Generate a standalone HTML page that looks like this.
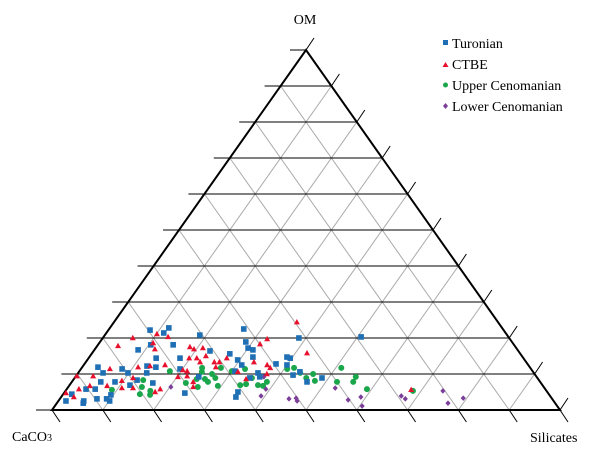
<!DOCTYPE html>
<html><head><meta charset="utf-8"><style>
html,body{margin:0;padding:0;background:#fff;}
svg{display:block;font-family:"Liberation Serif",serif;}
</style></head><body>
<svg id="chart" width="602" height="458" viewBox="0 0 602 458">
<g id="grid"></g>
<g id="points"></g>
<text x="305" y="24" text-anchor="middle" font-size="14">OM</text>
<text x="12" y="441" font-size="14">CaCO<tspan font-size="10">3</tspan></text>
<text x="530" y="442" font-size="14">Silicates</text>
<g font-size="14">
 <rect x="443" y="40" width="5" height="5" fill="#1f6fb5"/>
 <text x="452" y="48">Turonian</text>
 <polygon points="445.5,62 448.5,67 442.5,67" fill="#e8112d"/>
 <text x="452" y="69">CTBE</text>
 <circle cx="445.5" cy="85" r="2.5" fill="#1aa64a"/>
 <text x="452" y="90">Upper Cenomanian</text>
 <polygon points="445.5,103 448,106 445.5,109 443,106" fill="#7b3f9a"/>
 <text x="452" y="111">Lower Cenomanian</text>
</g>
</svg>
<script>
const turOM=[22.2,21.4,22.8,20.8,16.7,18.1,14.4,18.1,14.4,11.9,11.4,10.3,12.2,11.9,11.4,10.3,10.3,7.8,7.8,8.3,7.5,5.8,5.8,2.5,4.4,2.5,3.1,3.1,4.2,2.5,4.7,6.9,9.2,22.5,18.9,17.2,16.7,14.7,15.6,13.9,12.5,10.8,8.9,10.3,9.2,12.8,14.7,14.4,20.0,9.7,10.6,7.8,8.9,5.0,3.6,20.3,16.4,12.5,1.9];
const turSil=[8.2,11.3,11.6,18.7,8.6,10.4,13.3,14.8,18.0,3.1,8.1,4.9,12.6,14.5,19.5,9.8,13.5,8.5,5.7,12.6,16.1,3.8,5.6,1.5,1.7,5.0,7.3,9.2,9.5,10.1,23.8,11.9,24.3,26.5,28.7,30.0,31.2,32.2,27.2,29.6,31.1,30.6,34.5,35.4,36.3,37.7,38.9,39.7,38.6,42.6,43.5,46.3,48.7,34.1,34.4,50.7,22.9,40.0,5.2];
const ctbOM=[20.0,21.1,20.3,17.8,18.6,16.9,17.5,16.9,17.2,14.4,14.4,15.0,11.9,11.4,12.5,12.2,9.4,9.4,8.1,8.9,6.7,6.7,6.1,6.1,5.8,4.7,3.6,5.8,5.0,9.2,10.8,9.4,7.8,6.4,13.3,11.1,24.4,19.7,18.3,15.8,13.3,13.3,11.9,14.4,13.3,12.5,11.7,10.6,8.6,10.0,5.6];
const ctbSil=[5.9,10.1,12.7,4.1,10.6,11.8,18.4,19.5,21.1,19.8,21.3,22.8,11.0,5.7,16.0,13.2,0.2,3.4,9.7,11.5,4.1,7.5,10.7,12.9,2.4,0.4,2.5,18.4,17.8,20.2,21.2,21.9,23.9,24.6,22.5,20.2,36.0,32.5,31.8,42.3,25.3,26.3,26.3,27.2,33.1,36.1,37.1,31.3,33.9,37.3,67.9];
const ucOM=[5.6,4.4,5.3,4.2,6.4,10.8,11.7,10.6,8.6,8.6,7.5,6.4,7.8,10.0,8.9,11.7,6.7,10.8,6.9,11.4,7.2,8.9,6.9,6.7,7.8,11.4,11.7,10.3,8.9,10.0,8.1,7.8,11.7,7.8,9.2,5.8,5.3,8.3];
const ucSil=[9.0,15.1,16.7,17.2,14.5,17.8,23.7,24.2,24.2,25.8,22.6,25.5,26.8,26.5,27.7,27.4,29.3,30.0,33.6,32.3,34.6,34.9,37.1,38.2,38.4,40.6,41.8,43.7,45.6,46.4,47.7,52.2,51.1,55.4,55.2,59.1,68.4,13.8];
const lcOM=[6.4,3.9,5.8,3.1,3.3,2.5,6.1,2.8,3.6,1.1,3.9,3.1,5.3,1.9,3.3,9.2];
const lcSil=[20.2,39.2,39.2,45.1,46.4,47.0,52.7,56.9,59.0,60.5,66.8,68.0,74.3,77.0,79.3,37.1];

const NS='http://www.w3.org/2000/svg';
const X0=52,X1=560,YB=410,H=360,W=X1-X0;
function px(om,sil){return X0+(sil/100+om/200)*W;}
function py(om){return YB-om/100*H;}
function mk(tag,attrs,parent){const e=document.createElementNS(NS,tag);for(const k in attrs)e.setAttribute(k,attrs[k]);parent.appendChild(e);return e;}
const grid=document.getElementById('grid');
for(let i=1;i<10;i++){
  const v=i*10;
  // constant silicates line (parallel to left edge): from bottom to right edge
  let l=mk('line',{x1:px(0,v),y1:py(0),x2:px(100-v,v),y2:py(100-v),stroke:'#aaa','stroke-width':1},grid);
  
  
  // constant CaCO3 line: from bottom (sil=100-v) to left edge (sil=0, om=100-v)
  l=mk('line',{x1:px(0,100-v),y1:py(0),x2:px(100-v,0),y2:py(100-v),stroke:'#aaa','stroke-width':1},grid);
  
  
}
for(let i=0;i<=10;i++){
  const v=i*10;
  const xl=px(v,0),xr=px(v,100-v),y=py(v);
  let l=mk('line',{x1:xl-16,y1:y,x2:xr,y2:y,stroke:'#000','stroke-width':1},grid);
  
  
  l=mk('line',{x1:xr,y1:y,x2:xr+8,y2:y-12,stroke:'#000','stroke-width':1},grid);
  
  
  const xb=px(0,v);
  l=mk('line',{x1:xb,y1:YB,x2:xb+8,y2:YB+12,stroke:'#000','stroke-width':1},grid);
  
  
}
const tri=mk('polygon',{points:`${X0},${YB} ${X1},${YB} ${px(100,0)},${py(100)}`,fill:'none',stroke:'#000','stroke-width':2},grid);



const pts=document.getElementById('points');
function draw(omA,silA,type,color,name){
  for(let i=0;i<omA.length;i++){
    const x=px(omA[i],silA[i]),y=py(omA[i]);
    let e;
    if(type==='sq')e=mk('rect',{x:x-2.8,y:y-2.8,width:5.6,height:5.6,fill:color},pts);
    else if(type==='tri')e=mk('polygon',{points:`${x},${y-3.2} ${x+3},${y+2.2} ${x-3},${y+2.2}`,fill:color},pts);
    else if(type==='c')e=mk('circle',{cx:x,cy:y,r:3,fill:color},pts);
    else e=mk('polygon',{points:`${x},${y-2.8} ${x+2.6},${y} ${x},${y+2.8} ${x-2.6},${y}`,fill:color},pts);
    
    
  }
}
draw(ucOM,ucSil,'c','#1aa64a','point-upper-cenomanian');
draw(lcOM,lcSil,'d','#7b3f9a','point-lower-cenomanian');
draw(turOM,turSil,'sq','#1f6fb5','point-turonian');
draw(ctbOM,ctbSil,'tri','#e8112d','point-ctbe');
</script>
</body></html>
